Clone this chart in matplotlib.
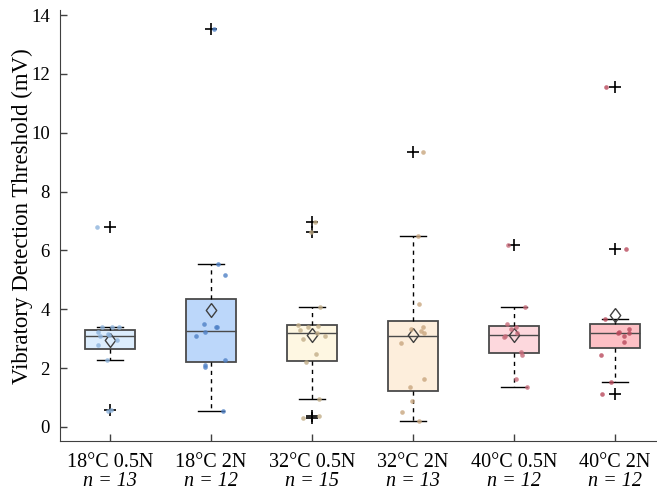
import numpy as np
import matplotlib.pyplot as plt

plt.rcParams['font.family'] = ['Liberation Serif', 'DejaVu Serif']

# group labels and sample sizes
groups = ["18°C 0.5N", "18°C 2N", "32°C 0.5N", "32°C 2N", "40°C 0.5N", "40°C 2N"]
n_sizes = [13, 12, 15, 13, 12, 12]

# individual thresholds (mV)
g1 = [6.79, 3.40, 3.40, 3.38, 3.22, 3.17, 3.12, 3.10, 2.95, 2.80, 2.29, 0.57, 0.55]
g2 = [13.54, 5.53, 5.15, 3.48, 3.40, 3.38, 3.22, 3.10, 2.29, 2.10, 2.04, 0.55]
g3 = [6.96, 6.62, 4.08, 3.46, 3.42, 3.40, 3.30, 3.20, 3.10, 3.00, 2.47, 2.19, 0.96, 0.37, 0.29]
g4 = [9.35, 6.50, 4.19, 3.40, 3.32, 3.25, 3.18, 2.84, 1.62, 1.37, 0.87, 0.50, 0.21]
g5 = [6.19, 4.08, 3.48, 3.40, 3.32, 3.18, 3.10, 3.05, 2.55, 2.44, 1.62, 1.37]
g6 = [11.54, 6.06, 3.65, 3.32, 3.23, 3.20, 3.18, 3.10, 2.89, 2.46, 1.54, 1.12]
points = [g1, g2, g3, g4, g5, g6]

# box summary as drawn (MATLAB style quartiles)
q1 = [2.64, 2.21, 2.25, 1.23, 2.50, 2.68]
med = [3.09, 3.25, 3.18, 3.10, 3.14, 3.18]
q3 = [3.29, 4.33, 3.46, 3.59, 3.43, 3.48]
whislo = [2.29, 0.55, 0.96, 0.21, 1.37, 1.54]
whishi = [3.40, 5.53, 4.08, 6.50, 4.08, 3.65]
means = [2.94, 3.97, 3.12, 3.12, 3.14, 3.80]
fliers = [[6.79, 0.57], [13.54], [6.96, 6.62, 0.37, 0.29], [9.35], [6.19], [11.54, 6.06, 1.12]]

box_colors = ["#dcedfd", "#bcd7fa", "#fef7e2", "#fdeedc", "#fdd8dd", "#fdc0c5"]
dot_colors = ["#8db3dc", "#4f81c6", "#c2ae88", "#c9a67f", "#c76b7a", "#b94a5c"]

# squat diamond for the mean
diamond = [(0, 1), (0.75, 0), (0, -1), (-0.75, 0), (0, 1)]

fig = plt.figure(figsize=(6.57, 4.91), dpi=100)
ax = fig.add_axes([59.5 / 657, 1 - 441 / 491, 606 / 657, 431 / 491])

stats = []
for i in range(len(groups)):
    stats.append(dict(q1=q1[i], med=med[i], q3=q3[i], whislo=whislo[i],
                      whishi=whishi[i], mean=means[i], fliers=fliers[i]))

pos = np.arange(1, len(groups) + 1)
bp = ax.bxp(stats, positions=pos, widths=0.5, patch_artist=True, showmeans=True,
            boxprops=dict(edgecolor="#4a4a4a", linewidth=1.3),
            medianprops=dict(color="#4a4a4a", linewidth=1.0),
            whiskerprops=dict(color="black", linestyle=(0, (3, 3)), linewidth=1.0),
            capprops=dict(color="black", linewidth=1.0),
            capwidths=0.25,
            flierprops=dict(marker="+", markeredgecolor="black", markersize=8,
                            markeredgewidth=1.2),
            meanprops=dict(marker=diamond, markerfacecolor="none", markeredgecolor="#404040",
                           markersize=10, markeredgewidth=1.0))
for patch, c in zip(bp["boxes"], box_colors):
    patch.set_facecolor(c)

# jittered raw points (fixed seed, horizontal spread only)
rng = np.random.default_rng(3)
for i, vals in enumerate(points):
    xj = pos[i] + rng.uniform(-0.15, 0.15, len(vals))
    ax.scatter(xj, vals, s=11, color=dot_colors[i], alpha=0.8, linewidths=0, zorder=4)

ax.set_xlim(0.5, 6.5)
ax.set_ylim(-0.48, 14.17)
ax.set_yticks(np.arange(0, 15, 2))
ax.set_xticks(pos)
ax.set_xticklabels([])
ax.tick_params(direction="in", length=5, width=1, color="#404040", labelsize=13.5, pad=7)
for s in ["top", "right"]:
    ax.spines[s].set_visible(False)
for s in ["left", "bottom"]:
    ax.spines[s].set_color("#404040")

for i, g in enumerate(groups):
    ax.text(pos[i], -0.05, g, transform=ax.get_xaxis_transform(), ha="center",
            va="center", fontsize=14.5)
    ax.text(pos[i], -0.093, f"n = {n_sizes[i]}", transform=ax.get_xaxis_transform(),
            ha="center", va="center", fontsize=14.5, style="italic")

fig.text(22 / 657, 1 - 216 / 491, "Vibratory Detection Threshold (mV)", rotation=90,
         ha="center", va="center", fontsize=16.5)

fig.savefig("out.png", dpi=100)
